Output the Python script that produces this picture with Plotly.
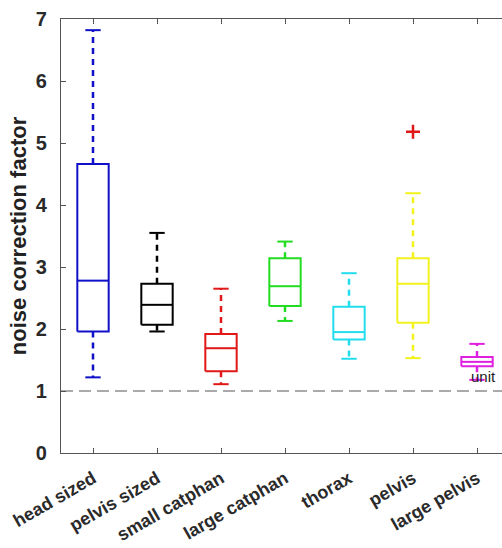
import plotly.graph_objects as go

categories = ["head sized", "pelvis sized", "small catphan", "large catphan", "thorax", "pelvis", "large pelvis"]
lower_whisker = [1.22, 1.96, 1.11, 2.13, 1.52, 1.53, 1.18]
q1 = [1.96, 2.07, 1.32, 2.37, 1.83, 2.10, 1.40]
median = [2.78, 2.39, 1.69, 2.69, 1.95, 2.73, 1.47]
q3 = [4.66, 2.73, 1.92, 3.14, 2.36, 3.14, 1.55]
upper_whisker = [6.82, 3.55, 2.65, 3.41, 2.90, 4.19, 1.76]
colors = ["#1010C8", "#000000", "#E01818", "#22DD22", "#22DDEE", "#F2F21E", "#E020E0"]
outlier_cat = [6]
outlier_val = [5.18]
ref_level = 1.0
ref_label = "unit"

BW = 0.245   # half box width
CW = 0.12    # half cap width

fig = go.Figure()
for i, c in enumerate(categories):
    x = i + 1
    col = colors[i]
    # dashed whiskers
    fig.add_trace(go.Scatter(
        x=[x, x, None, x, x],
        y=[q3[i], upper_whisker[i], None, q1[i], lower_whisker[i]],
        mode="lines", line=dict(color=col, width=2.5, dash="6px,5px"),
        showlegend=False, hoverinfo="skip"))
    # box, median, caps
    fig.add_trace(go.Scatter(
        x=[x - BW, x + BW, x + BW, x - BW, x - BW, None,
           x - BW, x + BW, None,
           x - CW, x + CW, None,
           x - CW, x + CW],
        y=[q1[i], q1[i], q3[i], q3[i], q1[i], None,
           median[i], median[i], None,
           upper_whisker[i], upper_whisker[i], None,
           lower_whisker[i], lower_whisker[i]],
        mode="lines", line=dict(color=col, width=2),
        showlegend=False, hoverinfo="skip"))

fig.add_trace(go.Scatter(
    x=outlier_cat, y=outlier_val, mode="markers",
    marker=dict(symbol="cross-thin", size=10, line=dict(color="#E01818", width=2.5)),
    showlegend=False, hoverinfo="skip"))

fig.add_hline(y=ref_level, line=dict(color="#555555", width=1, dash="12px,6px"))
fig.add_annotation(x=6.87, y=1.23, text=ref_label, showarrow=False, xanchor="left",
                   yanchor="middle", font=dict(size=15, color="#222222", family="Liberation Sans, Arial"))

font = dict(family="Liberation Sans, Arial", color="#333333")
fig.update_layout(
    width=502, height=548,
    margin=dict(l=61, r=0, t=19, b=95),
    plot_bgcolor="white", paper_bgcolor="white",
    font=font,
    xaxis=dict(range=[0.5, 0.5 + 441 / 64], tickmode="array",
               tickvals=list(range(1, len(categories) + 1)),
               ticktext=["<b>%s</b>" % c for c in categories],
               tickangle=-30, ticks="inside", ticklen=5, tickcolor="#555555",
               showline=True, linecolor="#555555", linewidth=1.2, mirror="ticks",
               showgrid=False, zeroline=False, ticklabelstandoff=7,
               tickfont=dict(size=18, color="#2a2a2a", family="Liberation Sans, Arial")),
    yaxis=dict(range=[0, 7], tickvals=list(range(0, 8)),
               ticktext=["<b>%d</b>" % v for v in range(0, 8)],
               ticks="inside", ticklen=5, tickcolor="#555555",
               showline=True, linecolor="#555555", linewidth=1.2,
               showgrid=False, zeroline=False, ticklabelstandoff=9,
               tickfont=dict(size=20, color="#2a2a2a", family="Liberation Sans, Arial"),
               title=dict(text="<b>noise correction factor</b>", standoff=3,
                          font=dict(size=22, color="#222222", family="Liberation Sans, Arial"))),
)

fig.write_html("out.html")
